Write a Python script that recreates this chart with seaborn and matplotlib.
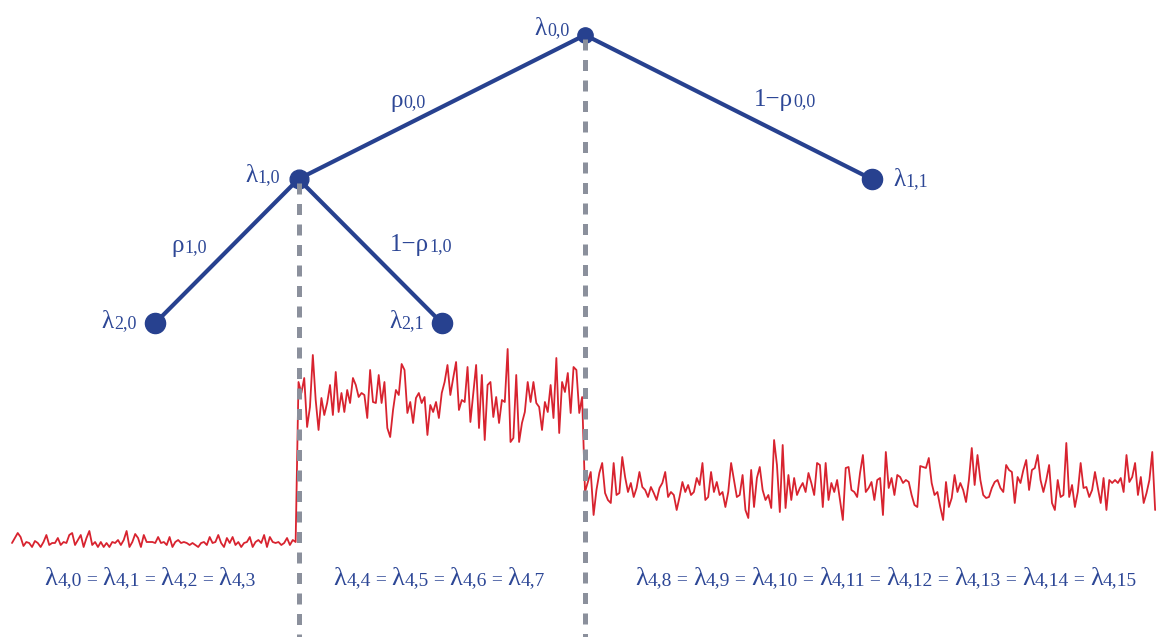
import numpy as np
import pandas as pd
import matplotlib
matplotlib.use("Agg")
import matplotlib.pyplot as plt
import seaborn as sns
from matplotlib.offsetbox import TextArea, HPacker, AnnotationBbox

# ---------------- data ----------------
# signal samples (vertical position, pixel rows: larger = lower)
seg_low = [543, 538, 533, 537, 546, 542, 543, 547, 541, 543,
           547, 542, 535, 545, 543, 543, 538, 545, 542, 543,
           535, 533, 545, 540, 535, 547, 538, 531, 545, 542,
           547, 542, 547, 543, 547, 542, 543, 540, 545, 540,
           531, 547, 542, 534, 538, 547, 535, 542, 542, 542,
           543, 537, 543, 542, 545, 537, 547, 542, 540, 543,
           542, 543, 545, 543, 545, 547, 543, 542, 545, 537,
           543, 542, 535, 543, 547, 538, 543, 537, 545, 542,
           547, 543, 542, 537, 547, 542, 540, 543, 535, 547,
           537, 542, 543, 542, 545, 543, 538, 545, 540, 542]
seg_high = [382, 393, 378, 427, 407, 355, 400, 430, 398, 415,
            403, 385, 415, 372, 412, 393, 412, 390, 403, 378,
            385, 397, 393, 395, 418, 370, 402, 403, 375, 403,
            382, 428, 437, 410, 390, 395, 364, 370, 413, 402,
            423, 398, 393, 403, 397, 435, 405, 412, 402, 418,
            393, 382,
            365, 395, 378, 362, 410, 400, 402, 367, 422, 393,
            365, 428, 375, 440, 385, 382, 417, 397, 423, 400,
            402, 349, 442, 438, 375, 442, 423, 412, 382, 402,
            382, 403, 407, 430, 402, 412, 385, 418, 358, 433,
            382, 392, 373, 413, 367, 370, 413, 397]
seg_mid = [492, 482, 472, 515, 490, 473, 463, 493, 500, 503,
           463, 495, 493, 457, 477, 492, 483, 497, 488, 472,
           487, 490, 497, 487, 493, 500, 488, 483, 472, 497,
           492, 495, 510, 497, 482, 492, 485, 495, 492, 478,
           485, 463, 500, 497, 472, 492, 482, 495, 492, 507,
           492, 463, 480, 497, 495, 475, 510, 518, 470, 507,
           478, 467, 490, 500, 495, 508, 440,
           465, 512, 445, 508, 475, 500, 478, 495, 488, 483,
           492, 473, 483, 495, 463, 465, 507, 463, 500, 483,
           492, 480, 500, 520, 468, 467, 490, 492, 497, 473,
           455, 492, 488, 482, 500, 480, 478, 515, 452, 488,
           478, 495, 475, 477, 483, 480, 482, 495, 505, 507,
           466, 467, 468, 458, 483, 495, 492, 507, 520, 482,
           507, 498, 475, 492, 483, 490, 502, 480,
           448, 485, 455, 480, 495, 498, 497, 488, 482, 480,
           488, 492, 465, 470, 472, 503, 477, 483, 470, 460,
           490, 470, 468, 455, 480, 492, 480, 465, 503, 510,
           480, 497, 495, 443, 497, 485, 507, 492, 463, 488,
           487, 497, 490, 472, 488, 503, 478, 510, 480, 483,
           480, 483, 478, 492, 455, 482, 477, 463, 495, 477,
           503, 493, 480, 452, 510]

# tree nodes (level j, index k) and edges
node_level = [0, 1, 1, 2, 2]
node_index = [0, 0, 1, 0, 1]
edge_parent = [0, 0, 1, 1]
edge_child = [1, 2, 3, 4]
edge_labels = [("ρ", "0,0"), ("1−ρ", "0,0"), ("ρ", "1,0"), ("1−ρ", "1,0")]
node_labels = [("λ", "0,0"), ("λ", "1,0"), ("λ", "1,1"), ("λ", "2,0"), ("λ", "2,1")]
split_nodes = [0, 1]            # nodes whose splits are shown by dashed lines
bottom_groups = [[0, 1, 2, 3], [4, 5, 6, 7], [8, 9, 10, 11, 12, 13, 14, 15]]

# ---------------- drawing ----------------
signal = seg_low + seg_high + seg_mid
N = len(signal)

W, H = 1158, 637
fig = plt.figure(figsize=(W / 100, H / 100), dpi=100)
ax = fig.add_axes([0, 0, 1, 1])
sns.set_style("white")
ax.set_axis_off()

x0_px, step_px = 12.0, (W - 12.0) / N
ax.set_xlim(-x0_px / step_px, (W - x0_px) / step_px)
ax.set_ylim(H, 0)

BLUE = "#27418f"
TXT = "#2d4796"
RED = "#d8232f"
GRAY = "#8b909c"

df_sig = pd.DataFrame({"i": np.arange(N), "v": signal})
sns.lineplot(data=df_sig, x="i", y="v", ax=ax, color=RED, lw=1.3,
             estimator=None, sort=False, zorder=3)

lv = np.array(node_level)
nx = (np.array(node_index) + 0.5) * N / 2.0 ** lv
ny = 35 + 144 * lv

for p, c in zip(edge_parent, edge_child):
    sns.lineplot(x=[nx[p], nx[c]], y=[ny[p], ny[c]], ax=ax, color=BLUE,
                 lw=3.0, estimator=None, sort=False, zorder=4)

sizes = [11, 13.5, 14.5, 14.5, 14.5]
df_nodes = pd.DataFrame({"x": nx, "y": ny})
for (xx, yy), s in zip(df_nodes.values, sizes):
    ax.plot([xx], [yy], "o", ms=s, color=BLUE, mec=BLUE, zorder=5)

for n in split_nodes:
    ax.plot([nx[n], nx[n]], [ny[n] + 4, H + 5], color=GRAY, lw=3.6,
            dashes=(2.2, 1.9), solid_capstyle="butt", dash_capstyle="butt", zorder=6)


def rich(parts, xy_px, main=18, sub=13, align=(0.5, 0.5)):
    children = []
    for text, kind in parts:
        size = main if kind == "m" else sub
        children.append(TextArea(text, textprops=dict(color=TXT, fontsize=size,
                                                      family="Liberation Serif")))
    box = HPacker(children=children, align="baseline", pad=0, sep=0)
    ab = AnnotationBbox(box, (xy_px[0], H - xy_px[1]), xycoords="figure pixels",
                        frameon=False, box_alignment=align, pad=0)
    ax.add_artist(ab)


node_label_pos = [(552, 29), (263, 176), (911, 180), (119, 322), (407, 322)]
edge_label_pos = [(408, 101), (785, 100), (189, 246), (421, 245)]
for (m, s), pos in zip(node_labels, node_label_pos):
    rich([(m, "m"), (s, "s")], pos)
for (m, s), pos in zip(edge_labels, edge_label_pos):
    rich([(m, "m"), (s, "s")], pos)

bottom_pos = [(150, 579), (439, 579), (886, 579)]
for grp, pos in zip(bottom_groups, bottom_pos):
    parts = []
    for j, k in enumerate(grp):
        if j > 0:
            parts.append((" = ", "s"))
        parts.append(("λ", "m"))
        parts.append((f"4,{k}", "s"))
    rich(parts, pos, main=19, sub=14)

fig.savefig("out.png", dpi=100)
